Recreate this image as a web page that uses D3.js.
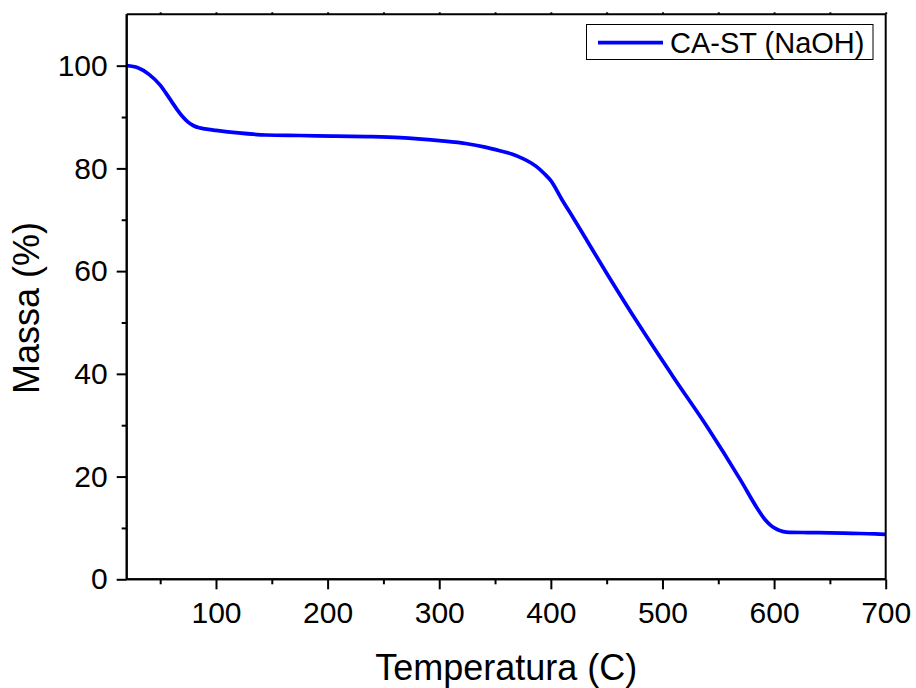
<!DOCTYPE html>
<html>
<head>
<meta charset="utf-8">
<script src="https://cdn.jsdelivr.net/npm/d3@7/dist/d3.min.js"></script>
<style>
  html, body { margin: 0; padding: 0; background: #fff; }
  svg { display: block; font-family: "Liberation Sans", Arial, sans-serif; }
</style>
</head>
<body>
<svg id="chart" width="916" height="688"></svg>
<script>
// Data
const temperature = [20, 30, 40, 50, 55, 60, 65, 70, 75, 80, 85, 90, 100, 120, 145, 175, 205, 235, 265, 300, 325, 340, 355, 365, 375, 382, 388, 394, 400, 410, 420, 450, 480, 510, 540, 570, 585, 592, 597, 601, 605, 611, 630, 650, 670, 690, 700];
const mass =        [100, 99.6, 98.3, 96.2, 94.7, 93.1, 91.5, 90.1, 89.0, 88.3, 87.9, 87.7, 87.4, 86.9, 86.5, 86.4, 86.3, 86.2, 86.0, 85.4, 84.8, 84.2, 83.4, 82.8, 81.9, 81.1, 80.2, 79.0, 77.6, 73.9, 70.4, 59.6, 49.2, 39.3, 29.7, 19.3, 13.8, 11.6, 10.5, 9.9, 9.5, 9.2, 9.1, 9.05, 8.95, 8.85, 8.75];
const seriesName = "CA-ST (NaOH)";
const xTicks = [100, 200, 300, 400, 500, 600, 700];
const xMinorTicks = [50, 150, 250, 350, 450, 550, 650];
const yTicks = [0, 20, 40, 60, 80, 100];
const yMinorTicks = [10, 30, 50, 70, 90];
const xTitle = "Temperatura (C)";
const yTitle = "Massa (%)";

const svg = d3.select("#chart");
const L = 126.7, R = 885.7, T = 14.3, B = 579.3;

const x = d3.scaleLinear().domain([20, 700]).range([L, R]);
const y = d3.scaleLinear().domain([0, 110]).range([B, T]);

// Line
const data = temperature.map((t, i) => ({t, m: mass[i]}));
const line = d3.line().x(d => x(d.t)).y(d => y(d.m)).curve(d3.curveMonotoneX);
svg.append("path").datum(data)
  .attr("fill", "none").attr("stroke", "#0000ff").attr("stroke-width", 3.7)
  .attr("stroke-linejoin", "round")
  .attr("d", line);

// Axes
const fontSize = 30;
const xAxis = svg.append("g").attr("transform", `translate(0,${B})`)
  .call(d3.axisBottom(x).tickValues(xTicks).tickSize(10).tickPadding(12).tickFormat(d3.format("d")));
const xMinor = svg.append("g").attr("transform", `translate(0,${B})`)
  .call(d3.axisBottom(x).tickValues(xMinorTicks).tickSize(5).tickFormat(""));
const yAxis = svg.append("g").attr("transform", `translate(${L},0)`)
  .call(d3.axisLeft(y).tickValues(yTicks).tickSize(10).tickPadding(9).tickFormat(d3.format("d")));
const yMinor = svg.append("g").attr("transform", `translate(${L},0)`)
  .call(d3.axisLeft(y).tickValues(yMinorTicks).tickSize(5).tickFormat(""));
const xTop = svg.append("g").attr("transform", `translate(0,${T})`)
  .call(d3.axisTop(x).tickValues(xTicks.concat(xMinorTicks)).tickSize(2).tickFormat(""));
const yRight = svg.append("g").attr("transform", `translate(${R},0)`)
  .call(d3.axisRight(y).tickValues([]).tickSize(0));

[xAxis, xMinor, yAxis, yMinor, xTop, yRight].forEach(g => {
  g.select(".domain").attr("stroke", "#000").attr("stroke-width", 2);
  g.selectAll(".tick line").attr("stroke", "#000").attr("stroke-width", 2);
  g.selectAll(".tick text").attr("fill", "#000").style("font-size", fontSize + "px")
    .style("font-family", '"Liberation Sans", Arial, sans-serif');
});
[xAxis, xMinor, xTop].forEach(g => g.select(".domain").attr("d", `M${L},0H${R}`));
yAxis.select(".domain").attr("d", `M0,${B}V${T}`);
yMinor.select(".domain").attr("d", `M0,${B}V${T}`);
yRight.select(".domain").attr("d", `M0,${B}V${T}`);

// Axis titles
svg.append("text").attr("x", (L + R) / 2).attr("y", 680)
  .attr("text-anchor", "middle").style("font-size", "36px").attr("fill", "#000")
  .text(xTitle);
svg.append("text").attr("transform", "translate(39,308) rotate(-90)")
  .attr("text-anchor", "middle").style("font-size", "36px").attr("fill", "#000")
  .text(yTitle);

// Legend
const lg = svg.append("g");
lg.append("rect").attr("x", 586.5).attr("y", 24.5).attr("width", 286.5).attr("height", 35)
  .attr("fill", "#fff").attr("stroke", "#000").attr("stroke-width", 1);
lg.append("line").attr("x1", 598).attr("x2", 663).attr("y1", 42.7).attr("y2", 42.7)
  .attr("stroke", "#0000ff").attr("stroke-width", 3.7);
lg.append("text").attr("x", 670).attr("y", 53.3).style("font-size", "29px").attr("fill", "#000")
  .text(seriesName);
</script>
</body>
</html>
